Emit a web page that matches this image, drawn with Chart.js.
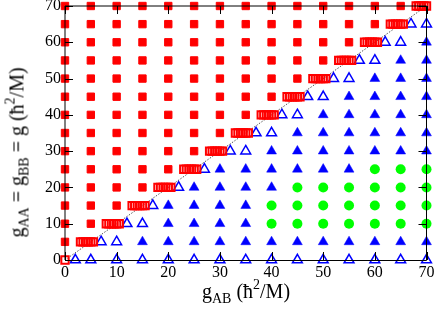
<!DOCTYPE html>
<html>
<head>
<meta charset="utf-8">
<script src="https://cdn.jsdelivr.net/npm/chart.js@4.4.1/dist/chart.umd.min.js"></script>
<style>
    html, body { margin: 0; padding: 0; background: #fff; }
    #wrap { position: relative; width: 436px; height: 313px; }
    #chart { position: absolute; left: 0; top: 0; }
    .ttl {
        position: absolute;
        font-family: 'Liberation Serif', 'Times New Roman', serif;
        font-size: 20px;
        line-height: 20px;
        white-space: nowrap;
        text-align: center;
        color: #000;
    }
    .sb { font-size: 14px; position: relative; top: 5px; }
    .sp { font-size: 14px; position: relative; top: -9px; }
    #xt { left: 65px; width: 362px; top: 281px; }
    #yt { left: -132px; top: 141px; width: 300px; transform: rotate(-90deg); }
</style>
</head>
<body>
<div id="wrap">
    <canvas id="chart" width="436" height="313" style="width:436px;height:313px"></canvas>
    <div id="xt" class="ttl">g<span class="sb">AB</span> (ħ<span class="sp">2</span>/M)</div>
    <div id="yt" class="ttl">g<span class="sb">AA</span> = g<span class="sb">BB</span> = g (ħ<span class="sp">2</span>/M)</div>
</div>
<script>
const RED = '#ff0000';
const BLUE = '#0000ff';
const GREEN = '#00ff00';
const FONT = "'Liberation Serif', 'Times New Roman', serif";
const TICK_LEN = 8;

// grid of the phase map, read row by row from the top (g = 70) down to g = 0
// S = red square, T = filled blue triangle, o = open blue triangle, C = green circle
const gridX = [0, 5, 10, 15, 20, 25, 30, 35, 40, 45, 50, 55, 60, 65, 70];
const gridY = [70, 65, 60, 55, 50, 45, 40, 35, 30, 25, 20, 15, 10, 5, 0];
const phaseRows = [
    'SSSSSSSSSSSSSS.',  // 70
    'SSSSSSSSSSSSS.o',  // 65
    'SSSSSSSSSSSS.oT',  // 60
    'SSSSSSSSSSS.oTT',  // 55
    'SSSSSSSSSS.oTTT',  // 50
    'SSSSSSSSS.oTTTT',  // 45
    'SSSSSSSS.oTTTTT',  // 40
    'SSSSSSS.oTTTTTT',  // 35
    'SSSSSS.oTTTTTTT',  // 30
    'SSSSS.TTTTTTCCC',  // 25
    'SSSS.TTTTCCCCCC',  // 20
    'SSS.TTTTCCCCCCC',  // 15
    'SS.oTTTTCCCCCCC',  // 10
    'S.oTTTTTTTTTTTT',  // 5
    '.oooooooooooooo',  // 0
];

// open triangles just right of the boundary
const edgeTriX = [2, 7, 12, 17, 22, 27, 32, 37, 42, 47, 52, 57, 62, 67];
const edgeTriY = [0, 5, 10, 15, 20, 25, 30, 35, 40, 45, 50, 55, 60, 65];

// dense open squares along the boundary (one list per row)
const bsfY = [0, 5, 10, 15, 20, 25, 30, 35, 40, 45, 50, 55, 60, 65, 70];
const bsfX = [
    [0],
    [3, 3.5, 4, 4.5, 5, 5.5],
    [8, 8.5, 9, 9.5, 10, 10.5],
    [13, 13.5, 14, 14.5, 15, 15.5],
    [18, 18.5, 19, 19.5, 20, 20.5],
    [23, 23.5, 24, 24.5, 25, 25.5],
    [28, 28.5, 29, 29.5, 30, 30.5],
    [33, 33.5, 34, 34.5, 35, 35.5],
    [38, 38.5, 39, 39.5, 40, 40.5],
    [43, 43.5, 44, 44.5, 45, 45.5],
    [48, 48.5, 49, 49.5, 50, 50.5],
    [53, 53.5, 54, 54.5, 55, 55.5],
    [58, 58.5, 59, 59.5, 60, 60.5],
    [63, 63.5, 64, 64.5, 65, 65.5],
    [68, 68.5, 69, 69.5, 70],
];

const diagX = [0, 70];
const diagY = [0, 70];

function cellPoints(code) {
    const pts = [];
    phaseRows.forEach((row, i) => {
        [...row].forEach((c, j) => {
            if (c === code) pts.push({ x: gridX[j], y: gridY[i] });
        });
    });
    return pts;
}

const openTri = cellPoints('o').concat(edgeTriX.map((x, i) => ({ x, y: edgeTriY[i] })));
const bsfPts = bsfX.flatMap((xs, i) => xs.map(x => ({ x, y: bsfY[i] })));

// frame and inward tick marks on all four sides
const frameTicks = {
    id: 'frameTicks',
    afterDatasetsDraw(chart) {
        const { ctx, chartArea: a, scales } = chart;
        ctx.save();
        ctx.strokeStyle = '#000';
        ctx.lineWidth = 1;
        ctx.beginPath();
        ctx.moveTo(a.left, a.top); ctx.lineTo(a.right, a.top);
        ctx.moveTo(a.left, a.top); ctx.lineTo(a.left, a.bottom);
        ctx.moveTo(a.left, a.bottom + 0.5); ctx.lineTo(a.right, a.bottom + 0.5);
        ctx.moveTo(a.right, a.top); ctx.lineTo(a.right, a.bottom);
        scales.x.ticks.forEach(t => {
            const px = Math.round(scales.x.getPixelForValue(t.value)) + 0.5;
            ctx.moveTo(px, a.bottom); ctx.lineTo(px, a.bottom - TICK_LEN);
            ctx.moveTo(px, a.top); ctx.lineTo(px, a.top + TICK_LEN);
        });
        scales.y.ticks.forEach(t => {
            const py = Math.round(scales.y.getPixelForValue(t.value)) + 0.5;
            ctx.moveTo(a.left, py); ctx.lineTo(a.left + TICK_LEN, py);
            ctx.moveTo(a.right, py); ctx.lineTo(a.right - TICK_LEN, py);
        });
        ctx.stroke();
        ctx.restore();
    }
};

new Chart(document.getElementById('chart'), {
    type: 'scatter',
    data: {
        datasets: [
            {
                data: cellPoints('S'),
                pointStyle: 'rect', pointRadius: 5.2,
                backgroundColor: RED, borderColor: RED, borderWidth: 1
            },
            {
                data: bsfPts,
                pointStyle: 'rect', pointRadius: 5.2,
                backgroundColor: 'rgba(0,0,0,0)', borderColor: RED, borderWidth: 2
            },
            {
                data: openTri,
                pointStyle: 'triangle', pointRadius: 5.7,
                backgroundColor: 'rgba(0,0,0,0)', borderColor: BLUE, borderWidth: 1.5
            },
            {
                data: cellPoints('T'),
                pointStyle: 'triangle', pointRadius: 5.7,
                backgroundColor: BLUE, borderColor: BLUE, borderWidth: 0.5
            },
            {
                data: cellPoints('C'),
                pointStyle: 'circle', pointRadius: 5,
                backgroundColor: GREEN, borderColor: GREEN, borderWidth: 0
            },
            {
                type: 'line',
                data: diagX.map((x, i) => ({ x, y: diagY[i] })),
                borderColor: '#555', borderWidth: 1, borderDash: [1.5, 1.5],
                pointRadius: 0, fill: false
            }
        ]
    },
    options: {
        responsive: false,
        animation: false,
        devicePixelRatio: 1,
        clip: false,
        layout: { padding: { left: 0, right: 9.5, top: 6, bottom: 0 }, autoPadding: false },
        plugins: { legend: { display: false }, tooltip: { enabled: false } },
        elements: { point: { hoverRadius: 0 } },
        scales: {
            x: {
                type: 'linear', min: 0, max: 70,
                ticks: { stepSize: 10, color: '#000', padding: 3, font: { family: FONT, size: 16 } },
                grid: { display: false, drawTicks: false },
                border: { display: false },
                afterFit: s => { s.height = 53; s.paddingLeft = 0; s.paddingRight = 0; }
            },
            y: {
                type: 'linear', min: 0, max: 70,
                ticks: { stepSize: 10, color: '#000', padding: 4, font: { family: FONT, size: 16, lineHeight: 0.7 } },
                grid: { display: false, drawTicks: false },
                border: { display: false },
                afterFit: s => { s.width = 65; s.paddingTop = 0; s.paddingBottom = 0; }
            }
        }
    },
    plugins: [frameTicks]
});
</script>
</body>
</html>
